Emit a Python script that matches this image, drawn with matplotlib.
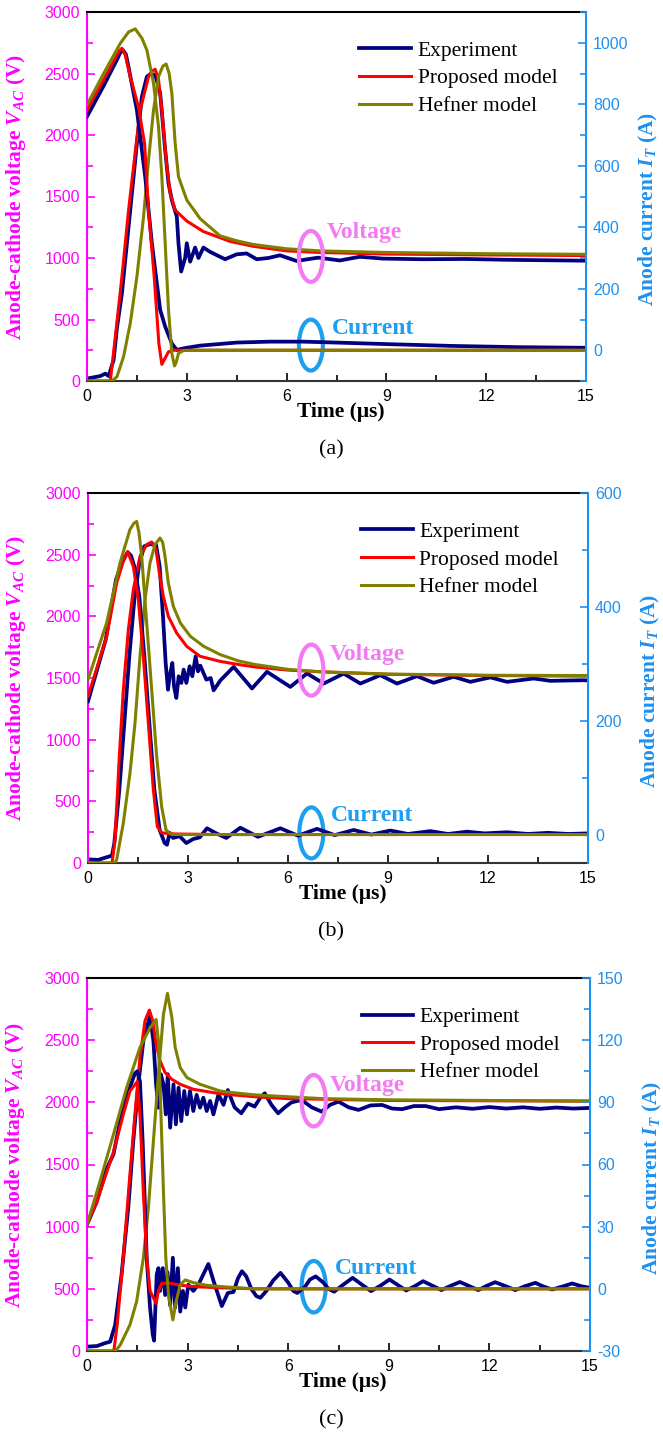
import matplotlib
matplotlib.use("Agg")
import matplotlib.pyplot as plt
from matplotlib.patches import Ellipse
from matplotlib.ticker import MultipleLocator

plt.rcParams["font.family"] = ["Liberation Sans", "DejaVu Sans"]
plt.rcParams["axes.unicode_minus"] = False
plt.rcParams["mathtext.fontset"] = "custom"
plt.rcParams["mathtext.it"] = "Liberation Serif:italic:bold"
plt.rcParams["mathtext.rm"] = "Liberation Serif:bold"
plt.rcParams["mathtext.bf"] = "Liberation Serif:bold"

# ---------------- panel (a) ----------------
a_exp_v_t = [0, 0.2, 0.4, 0.55, 0.65, 0.8, 0.9, 1.05, 1.3, 1.5, 1.65, 1.8, 1.9, 2.05, 2.2, 2.35,
             2.45, 2.55, 2.7, 2.75, 2.83, 2.95, 3.0, 3.1, 3.25, 3.35, 3.5, 3.7, 4.15, 4.5, 4.8,
             5.1, 5.45, 5.8, 6.3, 6.95, 7.6, 8.2, 8.9, 10.1, 11.4, 12.7, 15]
a_exp_v = [20, 30, 40, 60, 40, 171, 430, 713, 1390, 1932, 2312, 2474, 2495, 2490, 2339, 1878,
           1607, 1471, 1336, 1119, 890, 1000, 1120, 970, 1085, 1000, 1085, 1050, 990, 1030, 1037,
           990, 1000, 1022, 976, 1003, 980, 1010, 995, 990, 992, 985, 978]
a_exp_i_t = [0, 0.5, 0.9, 1.0, 1.08, 1.17, 1.25, 1.5, 1.75, 1.95, 2.2, 2.35, 2.55, 2.7, 2.85,
             3.0, 3.4, 4.5, 5.5, 6.5, 7.5, 9, 11, 13, 15]
a_exp_i = [760, 860, 945, 968, 976, 962, 920, 781, 564, 348, 131, 77, 22, 1, 5,
           8, 15, 25, 28, 28, 25, 20, 14, 10, 8]
a_prop_v_t = [0, 0.7, 0.83, 1.05, 1.25, 1.48, 1.6, 1.85, 1.95, 2.05, 2.15, 2.25, 2.38, 2.5,
              2.65, 3.0, 3.5, 4.3, 5, 6, 7, 9, 12, 15]
a_prop_v = [0, 0, 306, 848, 1390, 1932, 2203, 2474, 2520, 2534, 2450, 2203, 1797, 1526,
            1390, 1300, 1215, 1135, 1095, 1058, 1045, 1032, 1025, 1020]
a_prop_i_t = [0, 0.5, 0.9, 0.98, 1.05, 1.15, 1.3, 1.55, 1.73, 1.85, 2.02, 2.16, 2.25, 2.35,
              2.45, 2.6, 15]
a_prop_i = [780, 880, 960, 975, 982, 960, 890, 790, 673, 456, 239, 22, -46, -25, -5, 0, 0]
a_hef_v_t = [0, 0.75, 0.9, 1.1, 1.3, 1.5, 1.7, 1.85, 2.0, 2.15, 2.28, 2.38, 2.47, 2.55, 2.65,
             2.75, 3.0, 3.4, 4.0, 4.5, 5, 6, 7, 9, 12, 15]
a_hef_v = [0, 0, 35, 198, 469, 848, 1336, 1797, 2203, 2474, 2560, 2577, 2500, 2339, 1932,
           1661, 1471, 1320, 1180, 1140, 1110, 1075, 1058, 1045, 1035, 1030]
a_hef_i_t = [0, 0.5, 1.0, 1.25, 1.45, 1.65, 1.8, 2.0, 2.15, 2.25, 2.35, 2.45, 2.55, 2.63, 2.68,
             2.75, 2.9, 3.2, 15]
a_hef_i = [798, 900, 998, 1035, 1045, 1015, 976, 868, 727, 564, 348, 131, -10, -51, -40,
           -10, -1, 0, 0]

# ---------------- panel (b) ----------------
b_exp_v_t = [0, 0.3, 0.6, 0.72, 0.79, 0.94, 1.09, 1.24, 1.39, 1.54, 1.69, 1.85, 2.04, 2.15,
             2.25, 2.33, 2.40, 2.45, 2.53, 2.58, 2.65, 2.72, 2.80, 2.87, 2.95, 3.05, 3.13, 3.23,
             3.30, 3.37, 3.55, 3.68, 3.77, 3.97, 4.37, 4.92, 5.37, 6.07, 6.57, 7.07, 7.67,
             8.17, 8.77, 9.27, 9.87, 10.37, 10.97, 11.47, 12.07, 12.57, 13.37, 13.87, 14.87, 15]
b_exp_v = [30, 25, 50, 60, 162, 595, 1135, 1676, 2135, 2433, 2568, 2585, 2580, 2406,
           2000, 1622, 1405, 1514, 1622, 1432, 1338, 1514, 1460, 1568, 1460, 1595, 1514, 1676,
           1554, 1600, 1487, 1500, 1400, 1480, 1590, 1415, 1550, 1428, 1537, 1455, 1536,
           1455, 1523, 1455, 1515, 1461, 1510, 1469, 1505, 1469, 1496, 1477, 1482, 1480]
b_exp_i_t = [0, 0.53, 0.84, 1.04, 1.19, 1.29, 1.39, 1.54, 1.69, 1.84, 1.99, 2.15, 2.3, 2.37,
             2.45, 2.55, 2.75, 2.95, 3.15, 3.35, 3.57, 3.85, 4.15, 4.57, 5.1, 5.77, 6.3, 6.87,
             7.4, 7.97, 8.5, 9.07, 9.6, 10.27, 10.8, 11.37, 11.9, 12.57, 13.2, 13.8, 14.4, 15]
b_exp_i = [234, 342, 448, 480, 496, 490, 471, 418, 313, 196, 79, 8, -15, -18,
           3, -6, -3, -15, -8, -5, 11, 2, -6, 12, -4, 11, -2, 10,
           -1, 8, 0, 7, 1, 6, 1, 5, 2, 4, 1, 3, 1, 2]
b_prop_v_t = [0, 0.72, 0.81, 0.94, 1.06, 1.21, 1.36, 1.56, 1.76, 1.91, 2.04, 2.14, 2.26, 2.41,
              2.66, 2.96, 3.36, 3.96, 4.5, 5, 6, 7, 9, 12, 15]
b_prop_v = [0, 0, 189, 865, 1406, 1892, 2216, 2487, 2581, 2603, 2541, 2352, 2162, 2000,
            1865, 1757, 1676, 1635, 1610, 1590, 1564, 1550, 1530, 1520, 1515]
b_prop_i_t = [0, 0.56, 0.86, 1.06, 1.19, 1.36, 1.51, 1.66, 1.81, 1.96, 2.08, 2.21, 2.6, 4, 15]
b_prop_i = [243, 348, 442, 480, 497, 471, 413, 313, 196, 79, 14, 3, 1, 0, 0]
b_hef_v_t = [0, 0.8, 0.86, 1.06, 1.26, 1.41, 1.56, 1.71, 1.86, 2.01, 2.16, 2.24, 2.31, 2.41,
             2.56, 2.77, 3.07, 3.47, 3.97, 4.5, 5, 6, 7, 9, 12, 15]
b_hef_v = [0, 0, 27, 324, 730, 1135, 1676, 2135, 2433, 2581, 2635, 2600, 2487, 2270,
           2081, 1946, 1838, 1757, 1689, 1640, 1610, 1570, 1550, 1532, 1522, 1520]
b_hef_i_t = [0, 0.56, 0.96, 1.26, 1.38, 1.46, 1.53, 1.61, 1.76, 1.91, 2.06, 2.21, 2.34, 2.51, 15]
b_hef_i = [272, 372, 477, 536, 547, 550, 530, 489, 372, 255, 137, 49, 8, 0, 0]

# ---------------- panel (c) ----------------
c_exp_v_t = [0, 0.3, 0.5, 0.69, 0.84, 1.03, 1.23, 1.38, 1.53, 1.68, 1.88, 1.98, 2.06, 2.13,
             2.2, 2.28, 2.35, 2.41, 2.48, 2.58, 2.65, 2.73, 2.81, 2.9, 2.98, 3.07, 3.17, 3.27,
             3.37, 3.47, 3.57, 3.67, 3.77, 3.92, 4.07, 4.2, 4.4, 4.6, 4.8, 5.0, 5.15, 5.3, 5.5,
             5.7, 5.9, 6.1, 6.4, 6.7, 7.0, 7.25, 7.5, 7.8, 8.1, 8.45, 8.8, 9.1, 9.4, 9.75,
             10.1, 10.5, 11, 11.5, 12, 12.5, 13, 13.5, 14, 14.5, 15]
c_exp_v = [35, 40, 60, 75, 210, 613, 1150, 1688, 2145, 2494, 2696, 2494, 2145, 1957,
           2226, 2145, 1903, 2226, 1796, 2145, 1823, 2118, 1849, 2091, 1903, 2091, 1930, 2060,
           1957, 2037, 1930, 2011, 1903, 2064, 1980, 2099, 1960, 1912, 1990, 1966, 2030, 2073,
           1980, 1912, 1960, 2000, 2019, 1960, 1925, 1980, 2006, 1960, 1939, 1975, 1979, 1950,
           1945, 1970, 1970, 1945, 1960, 1948, 1962, 1950, 1960, 1948, 1958, 1950, 1955]
c_exp_i_t = [0, 0.29, 0.59, 0.79, 0.99, 1.23, 1.43, 1.5, 1.58, 1.66, 1.73, 1.78, 1.88, 1.96,
             2.0, 2.08, 2.13, 2.18, 2.26, 2.33, 2.4, 2.48, 2.56, 2.63, 2.71, 2.78, 2.86, 2.93,
             3.02, 3.17, 3.32, 3.47, 3.62, 3.77, 4.02, 4.2, 4.37, 4.5, 4.62, 4.75, 4.9, 5.05,
             5.17, 5.35, 5.55, 5.77, 6.0, 6.15, 6.27, 6.5, 6.65, 6.82, 7.05, 7.2, 7.37, 7.6,
             7.92, 8.2, 8.47, 8.75, 9.02, 9.3, 9.52, 9.8, 10.02, 10.3, 10.57, 10.85, 11.12,
             11.4, 11.67, 11.9, 12.17, 12.5, 12.77, 13.05, 13.37, 13.6, 13.87, 14.2, 14.47,
             14.75, 15]
c_exp_i = [31, 42, 58, 65, 81, 95, 104, 105, 100, 71, 39, 15, -9, -22,
           -25, 7, 10, -1, 10, -3, 8, -8, 15, -9, 10, -11, -1, -9,
           2, -1, 2, 7, 12, 4, -8.3, -2, -1.5, 5, 8.5, 6, 0, -3.5,
           -4.3, -1, 4, 7.7, 3, -1, -2, 1, 4.5, 6, 3, 0, -1.4, 1.5,
           5.3, 2, -1.1, 1.5, 4.5, 1.5, -0.8, 1.5, 3.7, 1.5, -0.6, 1.5, 3.3,
           1.3, -0.6, 1.3, 3.2, 1.2, -0.6, 1.2, 2.9, 1.2, -0.3, 1.2, 2.6,
           1.2, 0.5]
c_prop_v_t = [0, 0.8, 0.9, 1.08, 1.28, 1.43, 1.58, 1.73, 1.86, 1.96, 2.06, 2.18, 2.33, 2.53,
              2.78, 3.17, 3.77, 4.17, 5, 6, 9, 15]
c_prop_v = [0, 0, 210, 747, 1419, 1903, 2360, 2656, 2742, 2656, 2468, 2333, 2239, 2185,
            2145, 2105, 2078, 2064, 2045, 2030, 2015, 2010]
c_prop_i_t = [0, 0.29, 0.79, 1.08, 1.28, 1.5, 1.58, 1.68, 1.78, 1.88, 2.06, 2.13, 2.23, 2.48,
              2.78, 3.27, 3.97, 5, 15]
c_prop_i = [31, 42, 66, 84, 95.4, 100, 84, 47, 15, -1, -7, -1, 2.7, 2.7,
            1.7, 1, 0.5, 0, 0]
c_hef_v_t = [0, 0.85, 0.99, 1.28, 1.48, 1.68, 1.83, 1.98, 2.13, 2.28, 2.4, 2.53, 2.63, 2.78,
             2.98, 3.37, 3.97, 4.27, 5, 7, 9, 15]
c_hef_v = [0, 0, 48, 210, 398, 747, 1150, 1688, 2226, 2709, 2876, 2683, 2441, 2279,
           2199, 2145, 2091, 2080, 2060, 2030, 2020, 2010]
c_hef_i_t = [0, 0.39, 0.79, 1.18, 1.58, 1.88, 2.06, 2.13, 2.2, 2.28, 2.35, 2.43, 2.56, 2.66,
             2.78, 2.93, 3.17, 3.57, 4.07, 5, 15]
c_hef_i = [31, 52, 74.5, 97, 116.5, 126, 130, 119.7, 87, 47, 15, -3, -15, -6,
           2, 4.3, 3, 1.7, 1, 0, 0]

# right axis ranges (A) and tick steps
i_limits = [(-100, 1100), (-50, 600), (-30, 150)]
i_steps = [200, 200, 30]
captions = ["(a)", "(b)", "(c)"]

# ellipse / label centres (time, voltage)
volt_mark = [(6.73, 1013), (6.70, 1564), (6.76, 2013)]
curr_mark = [(6.73, 292), (6.70, 244), (6.76, 517)]
volt_text = [(7.2, 1208), (7.25, 1691), (7.25, 2139)]
curr_text = [(7.36, 428), (7.3, 387), (7.4, 660)]

# axes boxes in pixels: left, top, right, bottom
boxes = [(87, 12, 586, 381), (88, 493, 588, 863), (87, 978, 590, 1351)]

MAG = "#FF00FF"
BLUE = "#1E90F0"
NAVY = "#000080"
RED = "#FF0000"
OLIVE = "#808000"
PINK = "#F47AF4"
CYAN = "#1E9EF0"
SERIF = "Liberation Serif"

W, H = 663, 1436
fig = plt.figure(figsize=(W / 100, H / 100), dpi=100)

panels = [
    (a_exp_v_t, a_exp_v, a_exp_i_t, a_exp_i, a_prop_v_t, a_prop_v, a_prop_i_t, a_prop_i,
     a_hef_v_t, a_hef_v, a_hef_i_t, a_hef_i),
    (b_exp_v_t, b_exp_v, b_exp_i_t, b_exp_i, b_prop_v_t, b_prop_v, b_prop_i_t, b_prop_i,
     b_hef_v_t, b_hef_v, b_hef_i_t, b_hef_i),
    (c_exp_v_t, c_exp_v, c_exp_i_t, c_exp_i, c_prop_v_t, c_prop_v, c_prop_i_t, c_prop_i,
     c_hef_v_t, c_hef_v, c_hef_i_t, c_hef_i),
]

for k, p in enumerate(panels):
    (ev_t, ev, ei_t, ei, pv_t, pv, pi_t, pi, hv_t, hv, hi_t, hi) = p
    l, t, r, b = boxes[k]
    ax = fig.add_axes([l / W, 1 - b / H, (r - l) / W, (b - t) / H])
    ax2 = ax.twinx()

    # voltage -> left axis
    ax.plot(ev_t, ev, color=NAVY, lw=2.7, zorder=2, solid_joinstyle="round")
    ax.plot(pv_t, pv, color=RED, lw=2.2, zorder=3, solid_joinstyle="round")
    ax.plot(hv_t, hv, color=OLIVE, lw=2.2, zorder=4, solid_joinstyle="round")

    # current -> right axis
    ax2.plot(ei_t, ei, color=NAVY, lw=2.7, label="Experiment", solid_joinstyle="round")
    ax2.plot(pi_t, pi, color=RED, lw=2.2, label="Proposed model", solid_joinstyle="round")
    ax2.plot(hi_t, hi, color=OLIVE, lw=2.2, label="Hefner model", solid_joinstyle="round")

    ax.set_xlim(0, 15)
    ax.set_ylim(0, 3000)
    ax2.set_ylim(*i_limits[k])
    ax.xaxis.set_major_locator(MultipleLocator(3))
    ax.xaxis.set_minor_locator(MultipleLocator(1.5))
    ax.yaxis.set_major_locator(MultipleLocator(500))
    ax.yaxis.set_minor_locator(MultipleLocator(250))
    ax2.yaxis.set_major_locator(MultipleLocator(i_steps[k]))
    ax2.yaxis.set_minor_locator(MultipleLocator(i_steps[k] / 2))

    ax.tick_params(axis="x", which="both", direction="in", top=False, labelsize=11.5,
                   pad=6, colors="black")
    ax.tick_params(axis="y", which="both", direction="in", colors=MAG, labelsize=11.5, pad=5)
    ax2.tick_params(axis="y", which="both", direction="in", colors=BLUE, labelsize=11.5, pad=5)
    for a in (ax, ax2):
        a.tick_params(which="major", length=6, width=1.2)
        a.tick_params(which="minor", length=4, width=1.2)

    ax.spines["left"].set_color(MAG)
    ax.spines["right"].set_visible(False)
    ax2.spines["left"].set_visible(False)
    ax2.spines["top"].set_visible(False)
    ax2.spines["bottom"].set_visible(False)
    ax2.spines["right"].set_color(BLUE)
    for s in ["left", "top", "bottom"]:
        ax.spines[s].set_linewidth(1.5)
    ax.spines["bottom"].set_color("#333333")
    ax2.spines["right"].set_linewidth(1.5)

    ax.set_ylabel(r"Anode-cathode voltage $V_{AC}$ (V)", color=MAG, fontfamily=SERIF,
                  fontweight="bold", fontsize=15.5)
    ax.yaxis.set_label_coords(-0.119, 0.5)
    ax2.set_ylabel(r"Anode current $I_T$ (A)", color=BLUE, fontfamily=SERIF,
                   fontweight="bold", fontsize=15.5)
    ax2.yaxis.set_label_coords(1.102, 0.465)

    ax.text(0.509, -0.083, "Time (\u03bcs)", transform=ax.transAxes, ha="center",
            va="center", fontfamily=SERIF, fontweight="bold", fontsize=15.5)
    fig.text(331 / W, 1 - (b + 69) / H, captions[k], ha="center", va="center",
             fontfamily=SERIF, fontsize=16)

    # Voltage / Current markers
    ax.add_patch(Ellipse(volt_mark[k], 0.72, 414, fill=False, ec=PINK, lw=3, zorder=6))
    ax.add_patch(Ellipse(curr_mark[k], 0.72, 414, fill=False, ec=CYAN, lw=3, zorder=6))
    ax.text(*volt_text[k], "Voltage", color=PINK, fontfamily=SERIF, fontweight="bold",
            fontsize=17, ha="left", va="center", zorder=6)
    ax.text(*curr_text[k], "Current", color=CYAN, fontfamily=SERIF, fontweight="bold",
            fontsize=17, ha="left", va="center", zorder=6)

    ax2.legend(loc="upper left", bbox_to_anchor=(0.546, 0.922), frameon=False,
               borderpad=0, borderaxespad=0, handlelength=2.4, handletextpad=0.3,
               labelspacing=0.35, prop={"family": SERIF, "size": 15.5})

fig.savefig("out.png", dpi=100)
